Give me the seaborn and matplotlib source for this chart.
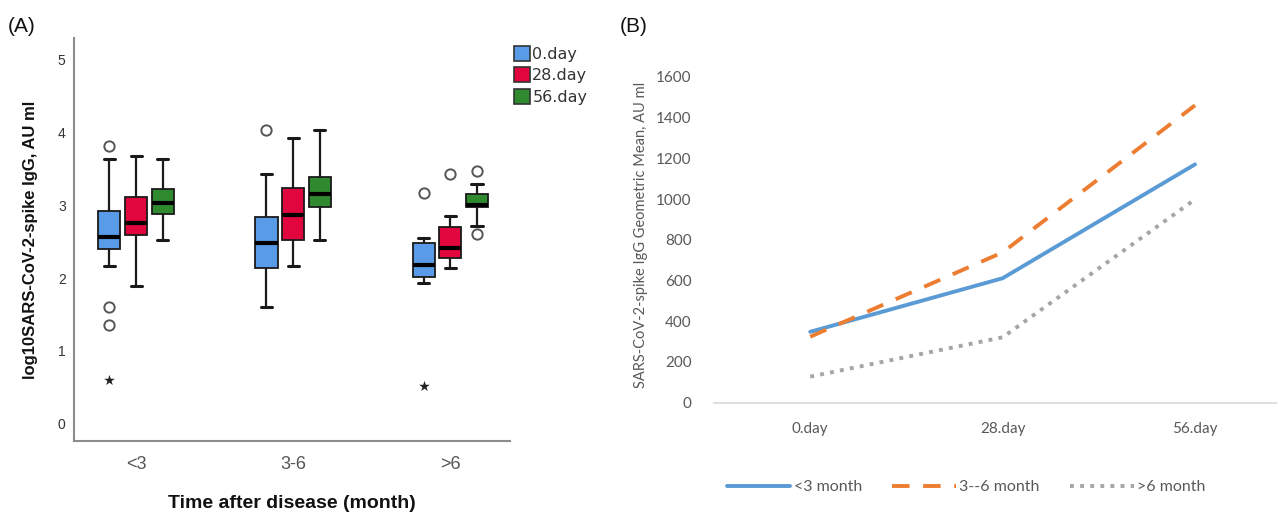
import numpy as np
import pandas as pd
import matplotlib
matplotlib.use("Agg")
import matplotlib.pyplot as plt
import seaborn as sns

# ---- panel A: box summaries (log10 AU/ml)
groups = ["<3", "3-6", ">6"]
days = ["0.day", "28.day", "56.day"]
# order: (<3: 0,28,56), (3-6: 0,28,56), (>6: 0,28,56)
whisker_lo = [2.17, 1.89, 2.52, 1.60, 2.17, 2.53, 1.93, 2.14, 2.71]
q1 = [2.40, 2.59, 2.88, 2.14, 2.52, 2.97, 2.02, 2.28, 2.97]
median = [2.57, 2.76, 3.03, 2.48, 2.86, 3.15, 2.18, 2.42, 3.00]
q3 = [2.92, 3.11, 3.22, 2.84, 3.24, 3.39, 2.48, 2.70, 3.15]
whisker_hi = [3.64, 3.68, 3.64, 3.43, 3.92, 4.03, 2.55, 2.85, 3.29]

# outliers (circles) and extremes (stars)
out_group = ["<3", "<3", "<3", "3-6", ">6", ">6", ">6", ">6"]
out_day = ["0.day", "0.day", "0.day", "0.day", "0.day", "28.day", "56.day", "56.day"]
out_val = [3.81, 1.60, 1.36, 4.03, 3.17, 3.43, 3.47, 2.60]
ext_group = ["<3", ">6"]
ext_day = ["0.day", "0.day"]
ext_val = [0.60, 0.51]

# ---- panel B: geometric means (AU/ml)
visits = ["0.day", "28.day", "56.day"]
series_names = ["<3 month", "3--6 month", ">6 month"]
gm_lt3 = [348, 611, 1170]
gm_3to6 = [324, 738, 1460]
gm_gt6 = [128, 321, 998]

box_colors = ["#5a9be8", "#e2063e", "#2f8a2f"]
line_colors = ["#5b9bd5", "#ed7d31", "#a5a5a5"]

rows = []
k = 0
for g in groups:
    for d in days:
        for v in (whisker_lo[k], q1[k], median[k], q3[k], whisker_hi[k]):
            rows.append({"group": g, "day": d, "value": v})
        k += 1
box_df = pd.DataFrame(rows)

box_w = 0.51


def dodge_x(gs, ds):
    return [groups.index(g) + (days.index(d) - 1) * box_w / 3 for g, d in zip(gs, ds)]


out_df = pd.DataFrame({"x": dodge_x(out_group, out_day), "value": out_val})
ext_df = pd.DataFrame({"x": dodge_x(ext_group, ext_day), "value": ext_val})

line_df = pd.DataFrame({
    "visit": visits * 3,
    "gm": gm_lt3 + gm_3to6 + gm_gt6,
    "series": [s for s in series_names for _ in visits],
})

sns.set_theme(style="white")
plt.rcParams["font.family"] = ["Liberation Sans", "DejaVu Sans"]

W, H = 1277, 517
fig = plt.figure(figsize=(W / 100, H / 100), dpi=100)

# ================= panel A
axA = fig.add_axes([74 / W, 1 - 441 / H, (510 - 74) / W, (441 - 38) / H])
sns.boxplot(data=box_df, x="group", y="value", hue="day", order=groups,
            hue_order=days, palette=box_colors, width=box_w, gap=0.17,
            whis=np.inf, fliersize=0, saturation=1, ax=axA,
            linecolor="#1a1a1a", linewidth=1.3,
            medianprops={"linewidth": 3, "color": "black"},
            whiskerprops={"linewidth": 1.6},
            capprops={"linewidth": 2.2})
sns.scatterplot(data=out_df, x="x", y="value", marker="o", s=55,
                facecolor="white", edgecolor="#555555", linewidth=1.4,
                ax=axA, zorder=5)
sns.scatterplot(data=ext_df, x="x", y="value", marker="*", s=65,
                color="#222222", linewidth=0, ax=axA, zorder=5)

axA.set_xlim(-0.395, 2.38)
axA.set_ylim(-0.24, 5.3)
axA.set_yticks([0, 1, 2, 3, 4, 5])
axA.tick_params(axis="y", length=0, pad=6, labelsize=10, labelcolor="#333333")
axA.tick_params(axis="x", length=0, pad=11, labelsize=13, labelcolor="#555555")
for s in ["top", "right"]:
    axA.spines[s].set_visible(False)
for s in ["left", "bottom"]:
    axA.spines[s].set_color("#8c8c8c")
    axA.spines[s].set_linewidth(1.5)
axA.set_xlabel("Time after disease (month)", fontsize=14, fontweight="bold",
               labelpad=16, color="#111111")
axA.set_ylabel("log10SARS-CoV-2-spike IgG, AU ml", fontsize=12,
               fontweight="bold", labelpad=14, color="#111111")
sns.move_legend(axA, "upper left", bbox_to_anchor=(0.99, 1.0), frameon=False,
                title=None, fontsize=11.5, handlelength=1.05, handleheight=1.05,
                handletextpad=0.12, labelspacing=0.35, borderaxespad=0.1)
for t in axA.get_legend().get_texts():
    t.set_family(["DejaVu Sans"])
    t.set_color("#333333")
for p in axA.get_legend().get_patches():
    p.set_edgecolor("#333333")
    p.set_linewidth(1.2)

fig.text(8 / W, 1 - 27 / H, "(A)", fontsize=15, va="center", ha="left",
         color="#111111")

# ================= panel B
axB = fig.add_axes([714 / W, 1 - 402.7 / H, (W - 714) / W, (402.7 - 66.6) / H])
sns.lineplot(data=line_df, x="visit", y="gm", hue="series", style="series",
             hue_order=series_names, style_order=series_names,
             palette=line_colors, sort=False, linewidth=2.8,
             dashes={"<3 month": "", "3--6 month": (4.5, 3.5),
                     ">6 month": (1, 1.6)},
             ax=axB)
axB.set_xlim(-0.5, 2.426)
axB.set_ylim(0, 1650)
axB.set_yticks(range(0, 1601, 200))
for s in ["top", "right", "left"]:
    axB.spines[s].set_visible(False)
axB.spines["bottom"].set_color("#d9d9d9")
axB.spines["bottom"].set_linewidth(1.2)
axB.tick_params(axis="both", length=0, labelsize=11, labelcolor="#595959")
axB.tick_params(axis="y", pad=16)
axB.tick_params(axis="x", pad=14)
for t in axB.get_xticklabels() + axB.get_yticklabels():
    t.set_family(["Lato", "DejaVu Sans"])
axB.set_xlabel("")
axB.set_ylabel("SARS-CoV-2-spike IgG Geometric Mean, AU ml", fontsize=10.5,
               color="#595959", family=["Lato", "DejaVu Sans"], labelpad=6)
legB = axB.legend(loc="center", bbox_to_anchor=(966 / W, 1 - 487 / H),
                  bbox_transform=fig.transFigure, ncol=3, frameon=False,
                  handlelength=4.0, handletextpad=0.2, columnspacing=1.9,
                  prop={"family": ["Lato", "DejaVu Sans"], "size": 11.5})
for t in legB.get_texts():
    t.set_color("#595959")
for ln in legB.get_lines():
    ln.set_linewidth(2.8)

fig.text(620 / W, 1 - 27 / H, "(B)", fontsize=15, va="center", ha="left",
         color="#111111")

fig.savefig("out.png", dpi=100)
